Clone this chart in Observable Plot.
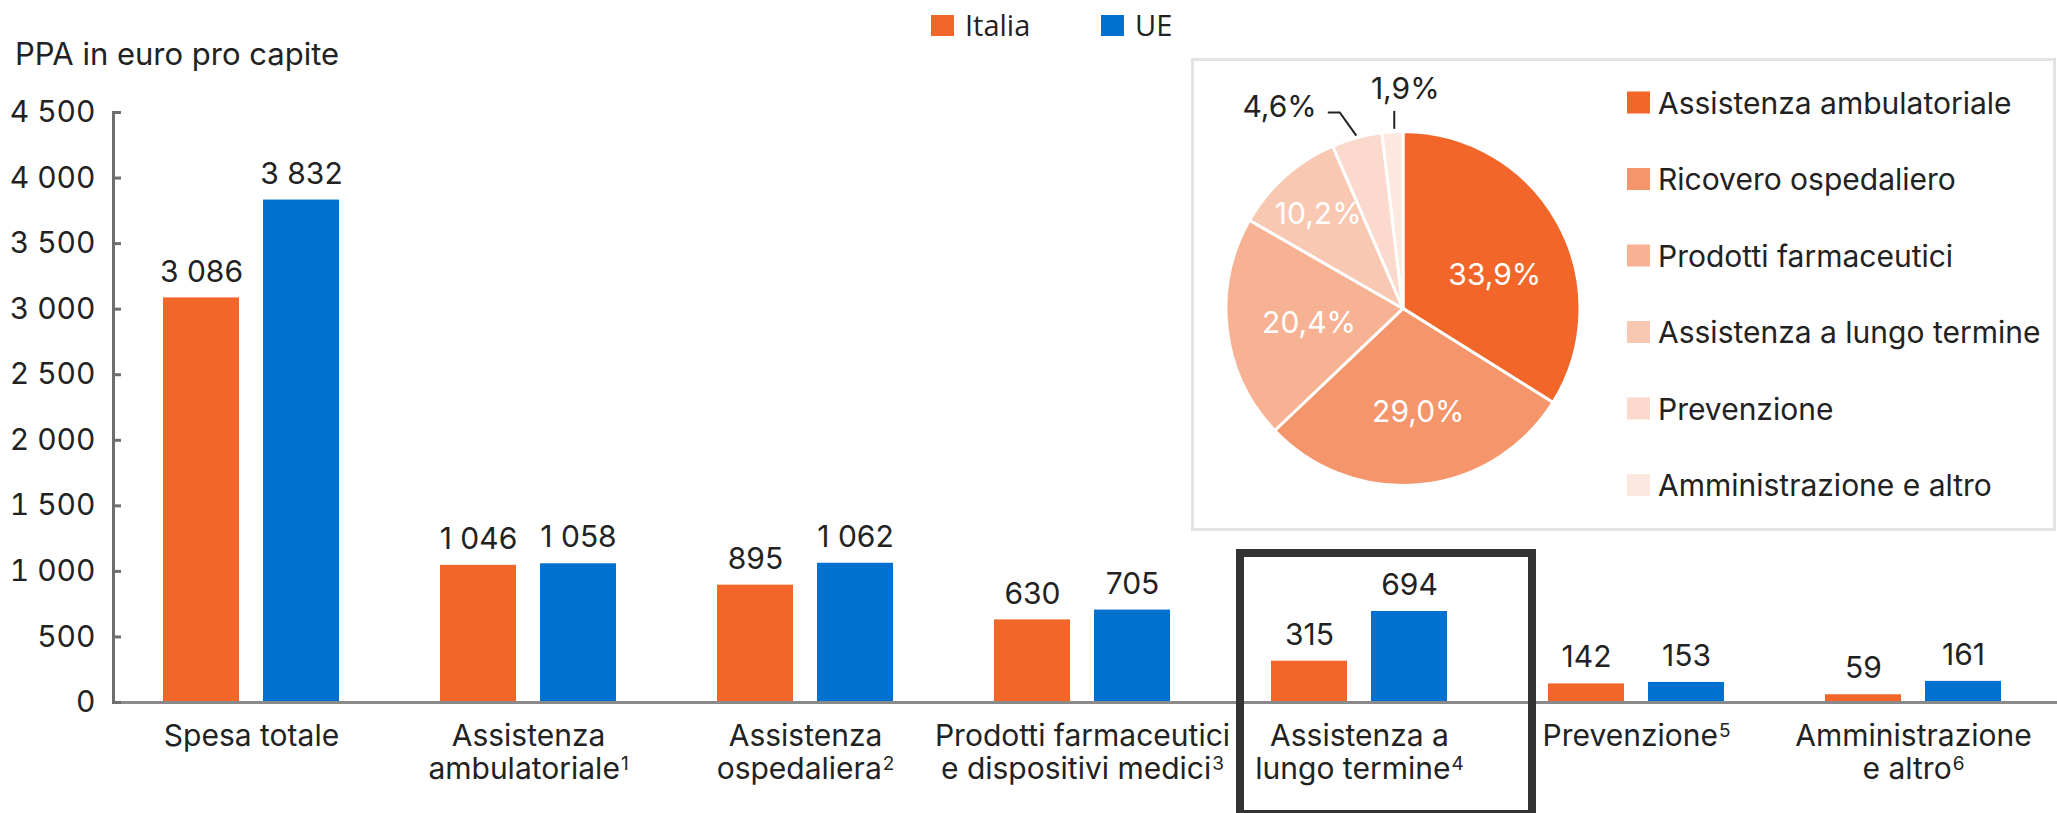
<!DOCTYPE html>
<html>
<head>
<meta charset="utf-8">
<script src="https://cdn.jsdelivr.net/npm/d3@7"></script>
<script src="https://cdn.jsdelivr.net/npm/@observablehq/plot@0.6"></script>
<style>
  html, body { margin: 0; padding: 0; background: #fff; }
  #wrap { position: relative; width: 2057px; height: 813px; overflow: hidden; }
  #wrap svg { position: absolute; left: 0; top: 0; }
</style>
</head>
<body>
<div id="wrap"></div>
<script>
// ---------- data ----------
const categories = [
  "Spesa totale",
  "Assistenza ambulatoriale",
  "Assistenza ospedaliera",
  "Prodotti farmaceutici e dispositivi medici",
  "Assistenza a lungo termine",
  "Prevenzione",
  "Amministrazione e altro"
];
const categoryLabels = [
  "Spesa totale",
  "Assistenza\nambulatoriale¹",
  "Assistenza\nospedaliera²",
  "Prodotti farmaceutici\ne dispositivi medici³",
  "Assistenza a\nlungo termine⁴",
  "Prevenzione⁵",
  "Amministrazione\ne altro⁶"
];
const series = ["Italia", "UE"];
const italia = [3086, 1046, 895, 630, 315, 142, 59];
const ue = [3832, 1058, 1062, 705, 694, 153, 161];
const yTicks = [0, 500, 1000, 1500, 2000, 2500, 3000, 3500, 4000, 4500];
const seriesColors = ["#F26729", "#0071CE"];

const pieCategories = [
  "Assistenza ambulatoriale",
  "Ricovero ospedaliero",
  "Prodotti farmaceutici",
  "Assistenza a lungo termine",
  "Prevenzione",
  "Amministrazione e altro"
];
const pieShares = [33.9, 29.0, 20.4, 10.2, 4.6, 1.9];
const pieColors = ["#F26729", "#F4956B", "#F7B294", "#F9C8B3", "#FBD9CC", "#FDE8DF"];

const yTitle = "PPA in euro pro capite";

// ---------- helpers ----------
const FONT = "Inter, 'Noto Sans', sans-serif";
const TEXT = "#222";
const fmt = d => d >= 1000 ? Math.floor(d / 1000) + " " + String(d % 1000).padStart(3, "0") : String(d);
const pct = d => d.toFixed(1).replace(".", ",") + "%";

const rows = categories.flatMap((c, i) => [
  {cat: c, series: "Italia", value: italia[i]},
  {cat: c, series: "UE", value: ue[i]}
]);
const rowsIt = rows.filter(d => d.series === "Italia");
const rowsUe = rows.filter(d => d.series === "UE");

const W = 2057, H = 813;
const BAND = 176, BAR = 76, SHIFT = BAND / 2 - BAR / 2;

// ---------- main bar chart ----------
const chart = Plot.plot({
  width: W, height: H,
  marginLeft: 113, marginRight: 0, marginTop: 112, marginBottom: 111,
  style: {fontFamily: FONT, fontSize: "30px", color: TEXT, background: "transparent", overflow: "visible"},
  x: {domain: categories, paddingInner: 0.3646, paddingOuter: 0.1913, align: 0.472, label: null, axis: null},
  y: {domain: [0, 4500], label: null, axis: null},
  color: {domain: series, range: seriesColors},
  marks: [
    Plot.barY(rowsIt, {x: "cat", y: "value", fill: "series", insetRight: BAND - BAR}),
    Plot.barY(rowsUe, {x: "cat", y: "value", fill: "series", insetLeft: BAND - BAR}),
    Plot.text(rowsIt, {x: "cat", y: "value", text: d => fmt(d.value), dx: -SHIFT, dy: -26, fill: TEXT, fontSize: 30}),
    Plot.text(rowsUe, {x: "cat", y: "value", text: d => fmt(d.value), dx: SHIFT, dy: -26, fill: TEXT, fontSize: 30}),
    Plot.ruleY([0], {stroke: "#8a8a8a", strokeWidth: 3}),
    Plot.frame({anchor: "left", stroke: "#6e6e6e", strokeWidth: 3}),
    Plot.axisY({ticks: yTicks, tickFormat: fmt, tickSize: -8, tickPadding: 26, stroke: "#6e6e6e", strokeWidth: 3, label: null, fontSize: 30}),
    Plot.axisX({tickSize: 0, tickPadding: 20, tickFormat: d => categoryLabels[categories.indexOf(d)], lineHeight: 1.1, label: null, fontSize: 30})
  ]
});
document.getElementById("wrap").appendChild(chart);

// render footnote markers as small raised digits
const supMap = {"¹": "1", "²": "2", "³": "3", "⁴": "4", "⁵": "5", "⁶": "6"};
chart.querySelectorAll('[aria-label="x-axis tick label"] text').forEach(t => {
  const spans = t.querySelectorAll("tspan");
  const last = spans.length ? spans[spans.length - 1] : t;
  const s = last.textContent;
  const ch = s.slice(-1);
  if (supMap[ch]) {
    last.textContent = s.slice(0, -1);
    const sup = document.createElementNS("http://www.w3.org/2000/svg", "tspan");
    sup.setAttribute("font-size", "19");
    sup.setAttribute("dy", "-9");
    sup.setAttribute("dx", "1");
    sup.textContent = supMap[ch];
    last.appendChild(sup);
  }
});

// ---------- overlay: title, legend, pie inset, highlight ----------
const svg = d3.select("#wrap").append("svg")
  .attr("width", W).attr("height", H)
  .style("font-family", FONT);

svg.append("text").attr("x", 15).attr("y", 65)
  .attr("font-size", 31).attr("fill", TEXT).text(yTitle);

// top legend
series.forEach((s, i) => {
  const x0 = 931 + i * 170;
  svg.append("rect").attr("x", x0).attr("y", 15).attr("width", 23).attr("height", 21).attr("fill", seriesColors[i]);
  svg.append("text").attr("x", x0 + 34).attr("y", 36).attr("font-size", 29).attr("fill", TEXT)
    .style("font-family", "'Open Sans', Inter, sans-serif").text(s);
});

// highlight box around one category
svg.append("rect").attr("x", 1240).attr("y", 553).attr("width", 292).attr("height", 261)
  .attr("fill", "none").attr("stroke", "#333").attr("stroke-width", 8);

// pie panel
svg.append("rect").attr("x", 1192.5).attr("y", 59.5).attr("width", 862).attr("height", 470)
  .attr("fill", "#fff").attr("stroke", "#e3e3e3").attr("stroke-width", 3);

const cx = 1403, cy = 308.5, R = 177;
const pieG = svg.append("g").attr("transform", `translate(${cx},${cy})`);
const arcs = d3.pie().sort(null).value(d => d)(pieShares);
const arc = d3.arc().innerRadius(0).outerRadius(R);
pieG.selectAll("path").data(arcs).join("path")
  .attr("d", arc)
  .attr("fill", (d, i) => pieColors[i])
  .attr("stroke", "#fff").attr("stroke-width", 3);

// label nudges (layout only) for the inside labels, in px
const pieLabelNudge = [[2, 15], [5, 1], [8, 1], [6, 6]];
const pt = (a, r) => [Math.sin(a) * r, -Math.cos(a) * r];
arcs.forEach((d, i) => {
  const mid = (d.startAngle + d.endAngle) / 2;
  if (d.data >= 8) {
    const [x, y] = pt(mid, d.data >= 15 ? 0.58 * R : 0.77 * R);
    const [nx, ny] = pieLabelNudge[i] || [0, 0];
    pieG.append("text").attr("x", x + nx).attr("y", y + ny).attr("dy", "0.36em")
      .attr("text-anchor", "middle").attr("font-size", 30).attr("fill", "#fff").text(pct(d.data));
  } else if (d.data >= 3) {
    const [x0, y0] = pt(mid, R + 2);
    const [x1, y1] = pt(mid - 0.048, R + 29);
    pieG.append("path").attr("d", `M${x0},${y0}L${x1},${y1}h-12`)
      .attr("fill", "none").attr("stroke", TEXT).attr("stroke-width", 2);
    pieG.append("text").attr("x", x1 - 23).attr("y", y1 - 6).attr("dy", "0.36em")
      .attr("text-anchor", "end").attr("font-size", 30).attr("fill", TEXT).text(pct(d.data));
  } else {
    const [x0, y0] = pt(mid, R + 3);
    const [x1, y1] = pt(mid, R + 21);
    pieG.append("path").attr("d", `M${x0 + 2},${y0}L${x0 + 2},${y1}`)
      .attr("fill", "none").attr("stroke", TEXT).attr("stroke-width", 2);
    pieG.append("text").attr("x", x0 + 13).attr("y", y1 - 12)
      .attr("text-anchor", "middle").attr("font-size", 30).attr("fill", TEXT).text(pct(d.data));
  }
});

// pie legend
pieCategories.forEach((c, i) => {
  const yc = 102.5 + i * 76.5;
  svg.append("rect").attr("x", 1627).attr("y", yc - 11).attr("width", 23).attr("height", 22).attr("fill", pieColors[i]);
  svg.append("text").attr("x", 1658).attr("y", yc + 11).attr("font-size", 30).attr("fill", TEXT).text(c);
});
</script>
</body>
</html>
